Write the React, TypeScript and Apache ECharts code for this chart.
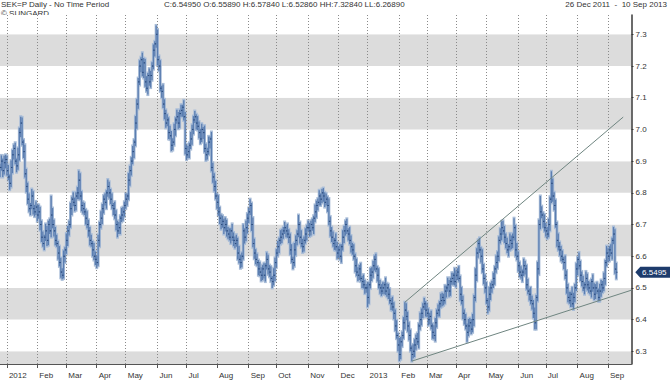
import React, { useEffect, useRef } from 'react';
import * as echarts from 'echarts';

const tickLabels = ['2012', 'Feb', 'Mar', 'Apr', 'May', 'Jun', 'Jul', 'Aug', 'Sep', 'Oct', 'Nov', 'Dec',
  '2013', 'Feb', 'Mar', 'Apr', 'May', 'Jun', 'Jul', 'Aug', 'Sep'];

const opens = [
  6.865, 6.880, 6.900, 6.870, 6.895, 6.905, 6.870, 6.850, 6.830, 6.880,
  6.920, 6.940, 6.900, 6.885, 6.920, 6.990, 7.020, 6.960, 6.930, 6.860,
  6.820, 6.780, 6.750, 6.760, 6.790, 6.750, 6.740, 6.755, 6.730, 6.740,
  6.700, 6.660, 6.640, 6.660, 6.680, 6.650, 6.700, 6.680, 6.730, 6.700,
  6.680, 6.650, 6.640, 6.610, 6.580, 6.550, 6.540, 6.600, 6.620, 6.650,
  6.680, 6.700, 6.750, 6.780, 6.770, 6.760, 6.790, 6.800, 6.840, 6.790,
  6.760, 6.750, 6.740, 6.720, 6.700, 6.680, 6.650, 6.640, 6.620, 6.600,
  6.590, 6.580, 6.650, 6.700, 6.720, 6.750, 6.780, 6.770, 6.800, 6.820,
  6.800, 6.780, 6.760, 6.750, 6.730, 6.700, 6.680, 6.690, 6.720, 6.730,
  6.740, 6.760, 6.780, 6.790, 6.840, 6.870, 6.900, 6.930, 6.960, 7.020,
  7.080, 7.150, 7.200, 7.220, 7.180, 7.210, 7.150, 7.130, 7.170, 7.150,
  7.170, 7.200, 7.250, 7.270, 7.300, 7.220, 7.200, 7.130, 7.120, 7.080,
  7.050, 7.020, 7.030, 6.990, 6.980, 6.950, 6.960, 7.000, 7.030, 7.040,
  7.020, 7.050, 7.060, 7.070, 7.040, 6.940, 6.920, 6.930, 6.950, 6.970,
  7.000, 7.030, 7.040, 7.020, 7.010, 6.990, 6.970, 7.000, 6.990, 6.940,
  6.920, 6.930, 6.960, 6.970, 6.880, 6.850, 6.820, 6.790, 6.770, 6.740,
  6.720, 6.700, 6.710, 6.690, 6.700, 6.680, 6.670, 6.660, 6.680, 6.660,
  6.650, 6.640, 6.650, 6.610, 6.590, 6.580, 6.600, 6.680, 6.660, 6.690,
  6.720, 6.740, 6.760, 6.700, 6.640, 6.610, 6.590, 6.580, 6.560, 6.550,
  6.540, 6.560, 6.540, 6.570, 6.590, 6.560, 6.550, 6.530, 6.520, 6.540,
  6.580, 6.610, 6.630, 6.650, 6.660, 6.670, 6.680, 6.690, 6.680, 6.670,
  6.660, 6.620, 6.590, 6.580, 6.620, 6.650, 6.670, 6.700, 6.660, 6.640,
  6.630, 6.650, 6.670, 6.690, 6.690, 6.680, 6.700, 6.690, 6.720, 6.740,
  6.760, 6.770, 6.790, 6.780, 6.800, 6.790, 6.770, 6.780, 6.760, 6.710,
  6.680, 6.660, 6.640, 6.650, 6.630, 6.610, 6.620, 6.600, 6.630, 6.660,
  6.680, 6.700, 6.680, 6.670, 6.650, 6.630, 6.620, 6.600, 6.570, 6.550,
  6.540, 6.560, 6.530, 6.520, 6.510, 6.500, 6.500, 6.470, 6.510, 6.540,
  6.550, 6.570, 6.590, 6.560, 6.540, 6.510, 6.500, 6.490, 6.500, 6.510,
  6.490, 6.500, 6.480, 6.460, 6.450, 6.440, 6.420, 6.380, 6.350, 6.320,
  6.290, 6.330, 6.350, 6.390, 6.430, 6.410, 6.380, 6.350, 6.310, 6.290,
  6.300, 6.320, 6.340, 6.330, 6.380, 6.400, 6.420, 6.440, 6.450, 6.430,
  6.420, 6.400, 6.410, 6.380, 6.360, 6.350, 6.390, 6.420, 6.430, 6.450,
  6.460, 6.470, 6.460, 6.490, 6.500, 6.510, 6.490, 6.520, 6.530, 6.540,
  6.520, 6.540, 6.550, 6.530, 6.480, 6.460, 6.420, 6.400, 6.380, 6.360,
  6.380, 6.390, 6.370, 6.400, 6.470, 6.540, 6.610, 6.640, 6.620, 6.600,
  6.560, 6.530, 6.500, 6.460, 6.440, 6.480, 6.500, 6.510, 6.530, 6.560,
  6.580, 6.600, 6.650, 6.670, 6.690, 6.680, 6.660, 6.640, 6.620, 6.630,
  6.650, 6.640, 6.660, 6.690, 6.620, 6.600, 6.570, 6.550, 6.540, 6.550,
  6.570, 6.560, 6.510, 6.490, 6.480, 6.460, 6.450, 6.420, 6.390, 6.470,
  6.560, 6.700, 6.740, 6.730, 6.710, 6.690, 6.680, 6.670, 6.700, 6.780,
  6.830, 6.790, 6.760, 6.700, 6.650, 6.630, 6.620, 6.600, 6.590, 6.580,
  6.540, 6.500, 6.470, 6.460, 6.480, 6.450, 6.470, 6.500, 6.560, 6.590,
  6.570, 6.540, 6.520, 6.500, 6.510, 6.530, 6.510, 6.500, 6.490, 6.520,
  6.500, 6.480, 6.500, 6.490, 6.470, 6.490, 6.510, 6.500, 6.530, 6.580,
  6.610, 6.600, 6.620, 6.610, 6.650, 6.670, 6.5589,
];

const highs = [
  6.892, 6.918, 6.908, 6.917, 6.920, 6.917, 6.888, 6.858, 6.902, 6.935,
  6.952, 6.958, 6.908, 6.942, 7.005, 7.040, 7.038, 6.968, 6.952, 6.875,
  6.832, 6.798, 6.768, 6.812, 6.805, 6.762, 6.773, 6.763, 6.762, 6.755,
  6.712, 6.678, 6.668, 6.702, 6.695, 6.712, 6.718, 6.790, 6.752, 6.715,
  6.692, 6.668, 6.648, 6.632, 6.595, 6.562, 6.618, 6.628, 6.672, 6.695,
  6.712, 6.768, 6.788, 6.802, 6.785, 6.802, 6.818, 6.870, 6.862, 6.805,
  6.772, 6.768, 6.748, 6.742, 6.715, 6.692, 6.668, 6.648, 6.642, 6.615,
  6.602, 6.668, 6.708, 6.742, 6.765, 6.792, 6.798, 6.808, 6.842, 6.835,
  6.812, 6.798, 6.768, 6.772, 6.745, 6.712, 6.708, 6.728, 6.752, 6.755,
  6.772, 6.798, 6.798, 6.862, 6.885, 6.912, 6.948, 6.968, 7.042, 7.095,
  7.162, 7.218, 7.228, 7.242, 7.225, 7.222, 7.168, 7.178, 7.192, 7.185,
  7.212, 7.268, 7.278, 7.328, 7.315, 7.232, 7.218, 7.138, 7.142, 7.095,
  7.062, 7.048, 7.038, 7.012, 6.995, 6.972, 7.018, 7.038, 7.062, 7.055,
  7.062, 7.078, 7.078, 7.092, 7.055, 6.952, 6.948, 6.958, 6.992, 7.015,
  7.042, 7.058, 7.048, 7.042, 7.025, 7.002, 7.018, 7.008, 7.012, 6.955,
  6.942, 6.978, 6.978, 6.992, 6.895, 6.862, 6.838, 6.798, 6.792, 6.755,
  6.732, 6.728, 6.718, 6.722, 6.715, 6.692, 6.688, 6.688, 6.702, 6.675,
  6.662, 6.668, 6.658, 6.632, 6.605, 6.612, 6.700, 6.688, 6.712, 6.735,
  6.752, 6.780, 6.768, 6.722, 6.655, 6.622, 6.608, 6.588, 6.582, 6.565,
  6.572, 6.578, 6.578, 6.612, 6.605, 6.572, 6.568, 6.538, 6.562, 6.595,
  6.622, 6.648, 6.658, 6.682, 6.685, 6.692, 6.708, 6.698, 6.702, 6.685,
  6.672, 6.638, 6.598, 6.642, 6.665, 6.682, 6.730, 6.708, 6.682, 6.655,
  6.662, 6.688, 6.698, 6.712, 6.705, 6.712, 6.718, 6.728, 6.762, 6.775,
  6.782, 6.808, 6.798, 6.812, 6.815, 6.802, 6.798, 6.788, 6.782, 6.725,
  6.692, 6.678, 6.658, 6.672, 6.645, 6.632, 6.638, 6.638, 6.682, 6.695,
  6.712, 6.718, 6.688, 6.692, 6.665, 6.642, 6.638, 6.608, 6.592, 6.565,
  6.572, 6.578, 6.538, 6.542, 6.525, 6.512, 6.518, 6.518, 6.562, 6.565,
  6.585, 6.602, 6.608, 6.568, 6.562, 6.525, 6.512, 6.518, 6.518, 6.532,
  6.515, 6.512, 6.498, 6.468, 6.472, 6.455, 6.432, 6.398, 6.358, 6.342,
  6.345, 6.362, 6.408, 6.455, 6.452, 6.425, 6.392, 6.368, 6.318, 6.322,
  6.338, 6.352, 6.358, 6.388, 6.422, 6.435, 6.452, 6.468, 6.458, 6.452,
  6.435, 6.422, 6.428, 6.388, 6.382, 6.405, 6.432, 6.448, 6.458, 6.482,
  6.485, 6.482, 6.508, 6.508, 6.532, 6.525, 6.532, 6.548, 6.548, 6.562,
  6.555, 6.562, 6.568, 6.538, 6.502, 6.475, 6.432, 6.418, 6.388, 6.402,
  6.405, 6.402, 6.418, 6.478, 6.562, 6.625, 6.652, 6.658, 6.628, 6.622,
  6.575, 6.542, 6.518, 6.468, 6.502, 6.515, 6.522, 6.548, 6.568, 6.602,
  6.615, 6.662, 6.688, 6.710, 6.712, 6.695, 6.672, 6.658, 6.638, 6.672,
  6.665, 6.672, 6.720, 6.698, 6.642, 6.615, 6.582, 6.568, 6.558, 6.592,
  6.585, 6.572, 6.528, 6.498, 6.502, 6.475, 6.462, 6.438, 6.478, 6.582,
  6.715, 6.790, 6.758, 6.738, 6.732, 6.705, 6.692, 6.718, 6.788, 6.868,
  6.845, 6.802, 6.778, 6.708, 6.672, 6.645, 6.632, 6.618, 6.598, 6.602,
  6.555, 6.512, 6.488, 6.488, 6.502, 6.485, 6.512, 6.578, 6.598, 6.612,
  6.585, 6.552, 6.538, 6.518, 6.552, 6.545, 6.522, 6.518, 6.528, 6.542,
  6.515, 6.512, 6.518, 6.498, 6.512, 6.525, 6.522, 6.548, 6.588, 6.632,
  6.625, 6.632, 6.638, 6.658, 6.692, 6.685, 6.5784,
];

const lows = [
  6.850, 6.870, 6.850, 6.858, 6.877, 6.855, 6.840, 6.810, 6.818, 6.862,
  6.905, 6.890, 6.865, 6.873, 6.902, 6.975, 6.950, 6.910, 6.848, 6.802,
  6.765, 6.740, 6.730, 6.748, 6.732, 6.725, 6.730, 6.710, 6.718, 6.682,
  6.645, 6.630, 6.620, 6.648, 6.632, 6.635, 6.670, 6.660, 6.688, 6.662,
  6.635, 6.630, 6.590, 6.568, 6.532, 6.527, 6.530, 6.580, 6.608, 6.632,
  6.665, 6.690, 6.730, 6.758, 6.742, 6.745, 6.780, 6.780, 6.778, 6.742,
  6.735, 6.730, 6.700, 6.688, 6.662, 6.635, 6.630, 6.600, 6.588, 6.572,
  6.564, 6.570, 6.630, 6.688, 6.702, 6.735, 6.760, 6.750, 6.788, 6.782,
  6.765, 6.750, 6.730, 6.718, 6.682, 6.660, 6.670, 6.670, 6.708, 6.712,
  6.725, 6.750, 6.760, 6.778, 6.822, 6.855, 6.890, 6.910, 6.948, 7.002,
  7.065, 7.140, 7.180, 7.168, 7.162, 7.135, 7.120, 7.110, 7.138, 7.132,
  7.155, 7.190, 7.230, 7.258, 7.202, 7.185, 7.120, 7.100, 7.068, 7.032,
  7.005, 7.010, 6.970, 6.968, 6.932, 6.935, 6.950, 6.980, 7.018, 7.002,
  7.005, 7.040, 7.040, 7.028, 6.922, 6.905, 6.910, 6.910, 6.938, 6.952,
  6.985, 7.020, 7.000, 6.998, 6.972, 6.955, 6.960, 6.970, 6.928, 6.902,
  6.905, 6.920, 6.940, 6.868, 6.832, 6.805, 6.780, 6.750, 6.728, 6.702,
  6.685, 6.690, 6.670, 6.678, 6.662, 6.655, 6.650, 6.640, 6.648, 6.632,
  6.625, 6.630, 6.590, 6.578, 6.562, 6.565, 6.590, 6.640, 6.648, 6.672,
  6.705, 6.730, 6.680, 6.628, 6.592, 6.575, 6.570, 6.540, 6.538, 6.522,
  6.525, 6.530, 6.520, 6.558, 6.542, 6.535, 6.520, 6.500, 6.508, 6.522,
  6.565, 6.600, 6.610, 6.638, 6.642, 6.655, 6.670, 6.660, 6.658, 6.642,
  6.605, 6.580, 6.560, 6.568, 6.602, 6.635, 6.660, 6.640, 6.628, 6.612,
  6.615, 6.640, 6.650, 6.678, 6.662, 6.665, 6.680, 6.670, 6.708, 6.722,
  6.745, 6.760, 6.760, 6.768, 6.772, 6.755, 6.760, 6.740, 6.698, 6.662,
  6.645, 6.630, 6.620, 6.618, 6.592, 6.595, 6.590, 6.580, 6.618, 6.642,
  6.665, 6.670, 6.650, 6.638, 6.612, 6.605, 6.590, 6.550, 6.538, 6.522,
  6.525, 6.520, 6.500, 6.498, 6.482, 6.485, 6.440, 6.450, 6.498, 6.522,
  6.532, 6.555, 6.550, 6.520, 6.498, 6.482, 6.475, 6.480, 6.480, 6.478,
  6.472, 6.465, 6.450, 6.430, 6.428, 6.402, 6.365, 6.340, 6.300, 6.270,
  6.275, 6.315, 6.340, 6.370, 6.398, 6.362, 6.335, 6.300, 6.269, 6.278,
  6.282, 6.305, 6.320, 6.310, 6.368, 6.382, 6.405, 6.430, 6.410, 6.408,
  6.382, 6.385, 6.370, 6.340, 6.338, 6.332, 6.375, 6.410, 6.410, 6.438,
  6.442, 6.445, 6.450, 6.470, 6.488, 6.472, 6.475, 6.510, 6.510, 6.508,
  6.502, 6.525, 6.520, 6.460, 6.448, 6.402, 6.385, 6.370, 6.330, 6.348,
  6.362, 6.355, 6.360, 6.380, 6.458, 6.522, 6.595, 6.610, 6.580, 6.548,
  6.512, 6.485, 6.450, 6.420, 6.428, 6.462, 6.485, 6.500, 6.510, 6.548,
  6.562, 6.585, 6.640, 6.650, 6.668, 6.642, 6.625, 6.610, 6.600, 6.618,
  6.622, 6.625, 6.650, 6.600, 6.588, 6.552, 6.535, 6.530, 6.520, 6.538,
  6.542, 6.495, 6.480, 6.460, 6.448, 6.432, 6.405, 6.370, 6.370, 6.458,
  6.542, 6.685, 6.720, 6.690, 6.678, 6.662, 6.655, 6.660, 6.680, 6.768,
  6.772, 6.745, 6.690, 6.630, 6.618, 6.602, 6.585, 6.580, 6.560, 6.528,
  6.482, 6.455, 6.450, 6.440, 6.440, 6.432, 6.455, 6.490, 6.540, 6.558,
  6.522, 6.505, 6.490, 6.480, 6.498, 6.492, 6.485, 6.480, 6.470, 6.488,
  6.462, 6.465, 6.480, 6.458, 6.458, 6.472, 6.485, 6.490, 6.510, 6.568,
  6.582, 6.585, 6.600, 6.590, 6.638, 6.545, 6.5286,
];

const closes = [
  6.880, 6.900, 6.870, 6.895, 6.905, 6.870, 6.850, 6.830, 6.880, 6.920,
  6.940, 6.900, 6.885, 6.920, 6.990, 7.020, 6.960, 6.930, 6.860, 6.820,
  6.780, 6.750, 6.760, 6.790, 6.750, 6.740, 6.755, 6.730, 6.740, 6.700,
  6.660, 6.640, 6.660, 6.680, 6.650, 6.700, 6.680, 6.730, 6.700, 6.680,
  6.650, 6.640, 6.610, 6.580, 6.550, 6.540, 6.600, 6.620, 6.650, 6.680,
  6.700, 6.750, 6.780, 6.770, 6.760, 6.790, 6.800, 6.840, 6.790, 6.760,
  6.750, 6.740, 6.720, 6.700, 6.680, 6.650, 6.640, 6.620, 6.600, 6.590,
  6.580, 6.650, 6.700, 6.720, 6.750, 6.780, 6.770, 6.800, 6.820, 6.800,
  6.780, 6.760, 6.750, 6.730, 6.700, 6.680, 6.690, 6.720, 6.730, 6.740,
  6.760, 6.780, 6.790, 6.840, 6.870, 6.900, 6.930, 6.960, 7.020, 7.080,
  7.150, 7.200, 7.220, 7.180, 7.210, 7.150, 7.130, 7.170, 7.150, 7.170,
  7.200, 7.250, 7.270, 7.300, 7.220, 7.200, 7.130, 7.120, 7.080, 7.050,
  7.020, 7.030, 6.990, 6.980, 6.950, 6.960, 7.000, 7.030, 7.040, 7.020,
  7.050, 7.060, 7.070, 7.040, 6.940, 6.920, 6.930, 6.950, 6.970, 7.000,
  7.030, 7.040, 7.020, 7.010, 6.990, 6.970, 7.000, 6.990, 6.940, 6.920,
  6.930, 6.960, 6.970, 6.880, 6.850, 6.820, 6.790, 6.770, 6.740, 6.720,
  6.700, 6.710, 6.690, 6.700, 6.680, 6.670, 6.660, 6.680, 6.660, 6.650,
  6.640, 6.650, 6.610, 6.590, 6.580, 6.600, 6.680, 6.660, 6.690, 6.720,
  6.740, 6.760, 6.700, 6.640, 6.610, 6.590, 6.580, 6.560, 6.550, 6.540,
  6.560, 6.540, 6.570, 6.590, 6.560, 6.550, 6.530, 6.520, 6.540, 6.580,
  6.610, 6.630, 6.650, 6.660, 6.670, 6.680, 6.690, 6.680, 6.670, 6.660,
  6.620, 6.590, 6.580, 6.620, 6.650, 6.670, 6.700, 6.660, 6.640, 6.630,
  6.650, 6.670, 6.690, 6.690, 6.680, 6.700, 6.690, 6.720, 6.740, 6.760,
  6.770, 6.790, 6.780, 6.800, 6.790, 6.770, 6.780, 6.760, 6.710, 6.680,
  6.660, 6.640, 6.650, 6.630, 6.610, 6.620, 6.600, 6.630, 6.660, 6.680,
  6.700, 6.680, 6.670, 6.650, 6.630, 6.620, 6.600, 6.570, 6.550, 6.540,
  6.560, 6.530, 6.520, 6.510, 6.500, 6.500, 6.470, 6.510, 6.540, 6.550,
  6.570, 6.590, 6.560, 6.540, 6.510, 6.500, 6.490, 6.500, 6.510, 6.490,
  6.500, 6.480, 6.460, 6.450, 6.440, 6.420, 6.380, 6.350, 6.320, 6.290,
  6.330, 6.350, 6.390, 6.430, 6.410, 6.380, 6.350, 6.310, 6.290, 6.300,
  6.320, 6.340, 6.330, 6.380, 6.400, 6.420, 6.440, 6.450, 6.430, 6.420,
  6.400, 6.410, 6.380, 6.360, 6.350, 6.390, 6.420, 6.430, 6.450, 6.460,
  6.470, 6.460, 6.490, 6.500, 6.510, 6.490, 6.520, 6.530, 6.540, 6.520,
  6.540, 6.550, 6.530, 6.480, 6.460, 6.420, 6.400, 6.380, 6.360, 6.380,
  6.390, 6.370, 6.400, 6.470, 6.540, 6.610, 6.640, 6.620, 6.600, 6.560,
  6.530, 6.500, 6.460, 6.440, 6.480, 6.500, 6.510, 6.530, 6.560, 6.580,
  6.600, 6.650, 6.670, 6.690, 6.680, 6.660, 6.640, 6.620, 6.630, 6.650,
  6.640, 6.660, 6.690, 6.620, 6.600, 6.570, 6.550, 6.540, 6.550, 6.570,
  6.560, 6.510, 6.490, 6.480, 6.460, 6.450, 6.420, 6.390, 6.470, 6.560,
  6.700, 6.740, 6.730, 6.710, 6.690, 6.680, 6.670, 6.700, 6.780, 6.830,
  6.790, 6.760, 6.700, 6.650, 6.630, 6.620, 6.600, 6.590, 6.580, 6.540,
  6.500, 6.470, 6.460, 6.480, 6.450, 6.470, 6.500, 6.560, 6.590, 6.570,
  6.540, 6.520, 6.500, 6.510, 6.530, 6.510, 6.500, 6.490, 6.520, 6.500,
  6.480, 6.500, 6.490, 6.470, 6.490, 6.510, 6.500, 6.530, 6.580, 6.610,
  6.600, 6.620, 6.610, 6.650, 6.670, 6.560, 6.5495,
];

const upperTrend = [[293, 6.455], [451, 7.039]];
const lowerTrend = [[298, 6.269], [457, 6.493]];
const lastClose = 6.5495;
const headerSymbol = 'SEK=P Daily -';
const headerPeriod = 'No Time Period';
const headerStats = 'C:6.54950 O:6.55890 H:6.57840 L:6.52860 HH:7.32840 LL:6.26890';
const headerRange = '26 Dec 2011  -  10 Sep 2013';
const copyrightText = '\u00A9 SUNGARD';

const PAD_COUNT = 11;
const FONT = '"Liberation Sans", Arial, sans-serif';

function tradingDays(): Date[] {
  const out: Date[] = [];
  const d = new Date(2011, 11, 26);
  const end = new Date(2013, 8, 10);
  while (d <= end) {
    const wd = d.getDay();
    if (wd !== 0 && wd !== 6) out.push(new Date(d.getFullYear(), d.getMonth(), d.getDate()));
    d.setDate(d.getDate() + 1);
  }
  return out;
}

export default function App() {
  const ref = useRef<HTMLDivElement>(null);

  useEffect(() => {
    if (!ref.current) return;
    const chart = echarts.init(ref.current, undefined, { renderer: 'svg' });

    const days = tradingDays();
    const categories: string[] = days.map(
      (d) => `${d.getFullYear()}-${d.getMonth() + 1}-${d.getDate()}`
    );
    for (let p = 1; p <= PAD_COUNT; p++) categories.push('pad' + p);

    const labelAt: Record<number, string> = {};
    let k = 0;
    for (let i = 1; i < days.length; i++) {
      if (days[i].getMonth() !== days[i - 1].getMonth()) {
        labelAt[i] = tickLabels[k++] ?? '';
      }
    }
    const isTick = (index: number) => labelAt[index] !== undefined;

    const rows = closes.map((c, i) => [i, opens[i], highs[i], lows[i], c]);

    const haloItem = (_params: any, api: any) => {
      const i = api.value(0);
      const pH = api.coord([i, api.value(2)]);
      const pL = api.coord([i, api.value(3)]);
      return {
        type: 'line',
        shape: { x1: pH[0], y1: pH[1] - 1.5, x2: pH[0], y2: pL[1] + 1.5 },
        style: { stroke: '#a9bdd8', lineWidth: 3 },
      };
    };

    const barItem = (_params: any, api: any) => {
      const i = api.value(0);
      const pO = api.coord([i, api.value(1)]);
      const pH = api.coord([i, api.value(2)]);
      const pL = api.coord([i, api.value(3)]);
      const pC = api.coord([i, api.value(4)]);
      const x = pH[0];
      return {
        type: 'group',
        children: [
          { type: 'line', shape: { x1: x, y1: pH[1], x2: x, y2: pL[1] }, style: { stroke: '#5b7eb1', lineWidth: 1.3 } },
          { type: 'line', shape: { x1: x - 1.2, y1: pO[1], x2: x, y2: pO[1] }, style: { stroke: '#2a4a7c', lineWidth: 1 } },
          { type: 'line', shape: { x1: x, y1: pC[1], x2: x + 1.2, y2: pC[1] }, style: { stroke: '#2a4a7c', lineWidth: 1 } },
        ],
      };
    };

    const option: any = {
      animation: false,
      backgroundColor: '#ffffff',
      grid: { left: 0, right: 38.5, top: 15, bottom: 17, outerBoundsMode: 'none' },
      xAxis: {
        type: 'category',
        data: categories,
        boundaryGap: false,
        z: 3,
        axisLine: { show: true, lineStyle: { color: '#555', width: 1 } },
        axisTick: { show: true, interval: isTick, length: 4, lineStyle: { color: '#555' } },
        axisLabel: {
          interval: isTick,
          formatter: (_v: string, i: number) => labelAt[i] ?? '',
          align: 'left',
          margin: 7,
          fontSize: 8,
          fontFamily: FONT,
          color: '#333',
          padding: [0, 0, 0, 2],
        },
        splitLine: {
          show: true,
          interval: isTick,
          lineStyle: { color: '#8a8a8a', width: 1, type: [1, 2] },
        },
      },
      yAxis: {
        type: 'value',
        position: 'right',
        min: 6.26,
        max: 7.361,
        splitNumber: 11,
        minInterval: 0.1,
        maxInterval: 0.1,
        axisLine: { show: true, lineStyle: { color: '#3a3a3a', width: 1.5 } },
        axisTick: { show: true, length: 2, lineStyle: { color: '#3a3a3a' } },
        axisLabel: {
          margin: 4,
          fontSize: 8,
          fontFamily: FONT,
          color: '#333',
          showMinLabel: false,
          showMaxLabel: false,
          formatter: (v: number) => v.toFixed(1),
        },
        splitLine: { show: false },
        splitArea: { show: true, areaStyle: { color: ['#dcdcdc', '#ffffff'] } },
      },
      graphic: [
        { type: 'text', left: 1, top: 0, style: { text: headerSymbol, fontSize: 8, fontFamily: FONT, fill: '#333' } },
        { type: 'text', left: 54, top: 0, style: { text: headerPeriod, fontSize: 8, fontFamily: FONT, fill: '#333' } },
        { type: 'text', left: 164, top: 0, style: { text: headerStats, fontSize: 8, fontFamily: FONT, fill: '#333' } },
        { type: 'text', right: 3, top: 0, style: { text: headerRange, fontSize: 8, fontFamily: FONT, fill: '#333' } },
        { type: 'text', left: 1, top: 9, style: { text: copyrightText, fontSize: 8, fontFamily: FONT, fill: '#333' } },
      ],
      series: [
        {
          type: 'custom',
          data: rows,
          encode: { x: 0, y: [1, 2, 3, 4] },
          clip: false,
          silent: true,
          z: 2,
          renderItem: haloItem,
        },
        {
          type: 'custom',
          data: rows,
          encode: { x: 0, y: [1, 2, 3, 4] },
          clip: false,
          silent: true,
          z: 3,
          renderItem: barItem,
          markPoint: {
            symbol: 'path://M0,5.5 L5,0 L36,0 L36,11 L5,11 Z',
            symbolSize: [36, 11],
            symbolKeepAspect: false,
            symbolOffset: [37, 0],
            itemStyle: { color: '#1d3b6c' },
            label: {
              show: true,
              position: 'inside',
              formatter: String(lastClose),
              color: '#ffffff',
              fontSize: 8,
              fontFamily: FONT,
              offset: [1, 0],
            },
            data: [{ coord: [closes.length - 1, lastClose] }],
          },
        },
        {
          type: 'line',
          data: upperTrend,
          symbol: 'none',
          silent: true,
          z: 5,
          lineStyle: { color: '#6f8580', width: 1 },
        },
        {
          type: 'line',
          data: lowerTrend,
          symbol: 'none',
          silent: true,
          z: 5,
          lineStyle: { color: '#6f8580', width: 1 },
        },
      ],
    };

    chart.setOption(option);
    return () => chart.dispose();
  }, []);

  return (
    <div
      ref={ref}
      style={{ position: 'absolute', left: 0, top: 0, width: 670, height: 381 }}
    />
  );
}
